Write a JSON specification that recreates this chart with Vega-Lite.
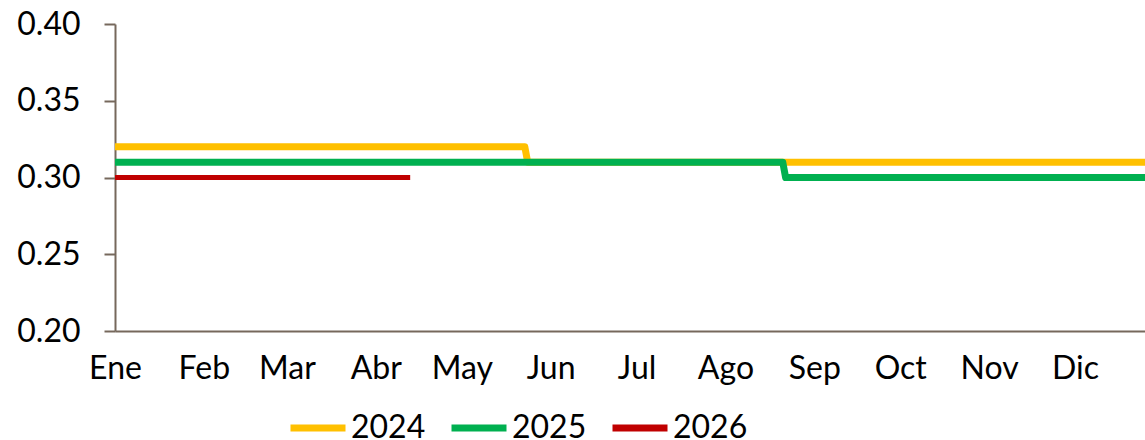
{
  "$schema": "https://vega.github.io/schema/vega-lite/v6.json",
  "width": 1030,
  "height": 307,
  "autosize": {"type": "none"},
  "padding": {"left": 115, "top": 24, "right": 0, "bottom": 109},
  "background": "white",
  "config": {
    "view": {"stroke": null},
    "font": "Lato",
    "axis": {"labelFont": "Lato", "labelFontSize": 32, "labelColor": "#000000", "grid": false, "domainColor": "#76685C", "tickColor": "#76685C", "domainWidth": 2, "tickWidth": 2, "title": null},
    "legend": {"labelFont": "Lato", "labelFontSize": 32, "labelColor": "#000000", "symbolStrokeWidth": 7}
  },
  "data": {
    "values": [
      {"year": "2024", "day": 0, "value": 0.32},
      {"year": "2024", "day": 143, "value": 0.32},
      {"year": "2024", "day": 144, "value": 0.31},
      {"year": "2024", "day": 366, "value": 0.31},
      {"year": "2025", "day": 0, "value": 0.31},
      {"year": "2025", "day": 233, "value": 0.31},
      {"year": "2025", "day": 234, "value": 0.30},
      {"year": "2025", "day": 366, "value": 0.30},
      {"year": "2026", "day": 0, "value": 0.30},
      {"year": "2026", "day": 103, "value": 0.30}
    ]
  },
  "encoding": {
    "x": {
      "field": "day", "type": "quantitative",
      "scale": {"domain": [0, 359.4], "nice": false, "zero": false},
      "axis": {"values": [0, 31, 60, 91, 121, 152, 182, 213, 244, 274, 305, 335], "ticks": false, "labelPadding": 22, "labelFlush": false, "labelOverlap": false,
        "labelExpr": "['Ene','Feb','Mar','Abr','May','Jun','Jul','Ago','Sep','Oct','Nov','Dic'][indexof([0,31,60,91,121,152,182,213,244,274,305,335], datum.value)]"}
    },
    "y": {
      "field": "value", "type": "quantitative",
      "scale": {"domain": [0.2, 0.4], "nice": false, "zero": false},
      "axis": {"values": [0.2, 0.25, 0.3, 0.35, 0.4], "format": ".2f", "tickSize": 11, "labelPadding": 24}
    },
    "color": {
      "field": "year", "type": "nominal",
      "scale": {"domain": ["2024", "2025", "2026"], "range": ["#FFC000", "#00B050", "#C00000"]},
      "legend": {"title": null, "orient": "none", "direction": "horizontal", "legendX": 172, "legendY": 373, "symbolType": "stroke", "symbolSize": 3025, "symbolStrokeWidth": 7, "labelOffset": 2, "columnPadding": 11,
        "encode": {"symbols": {"update": {"strokeWidth": {"value": 7}}}}}
    },
    "order": {"field": "day", "type": "quantitative"}
  },
  "layer": [
    {
      "transform": [{"filter": "datum.year != '2026'"}],
      "mark": {"type": "line", "clip": true, "strokeCap": "butt", "strokeJoin": "round", "strokeWidth": 7}
    },
    {
      "transform": [{"filter": "datum.year == '2026'"}],
      "mark": {"type": "line", "clip": true, "strokeCap": "butt", "strokeJoin": "round", "strokeWidth": 5}
    }
  ]
}
